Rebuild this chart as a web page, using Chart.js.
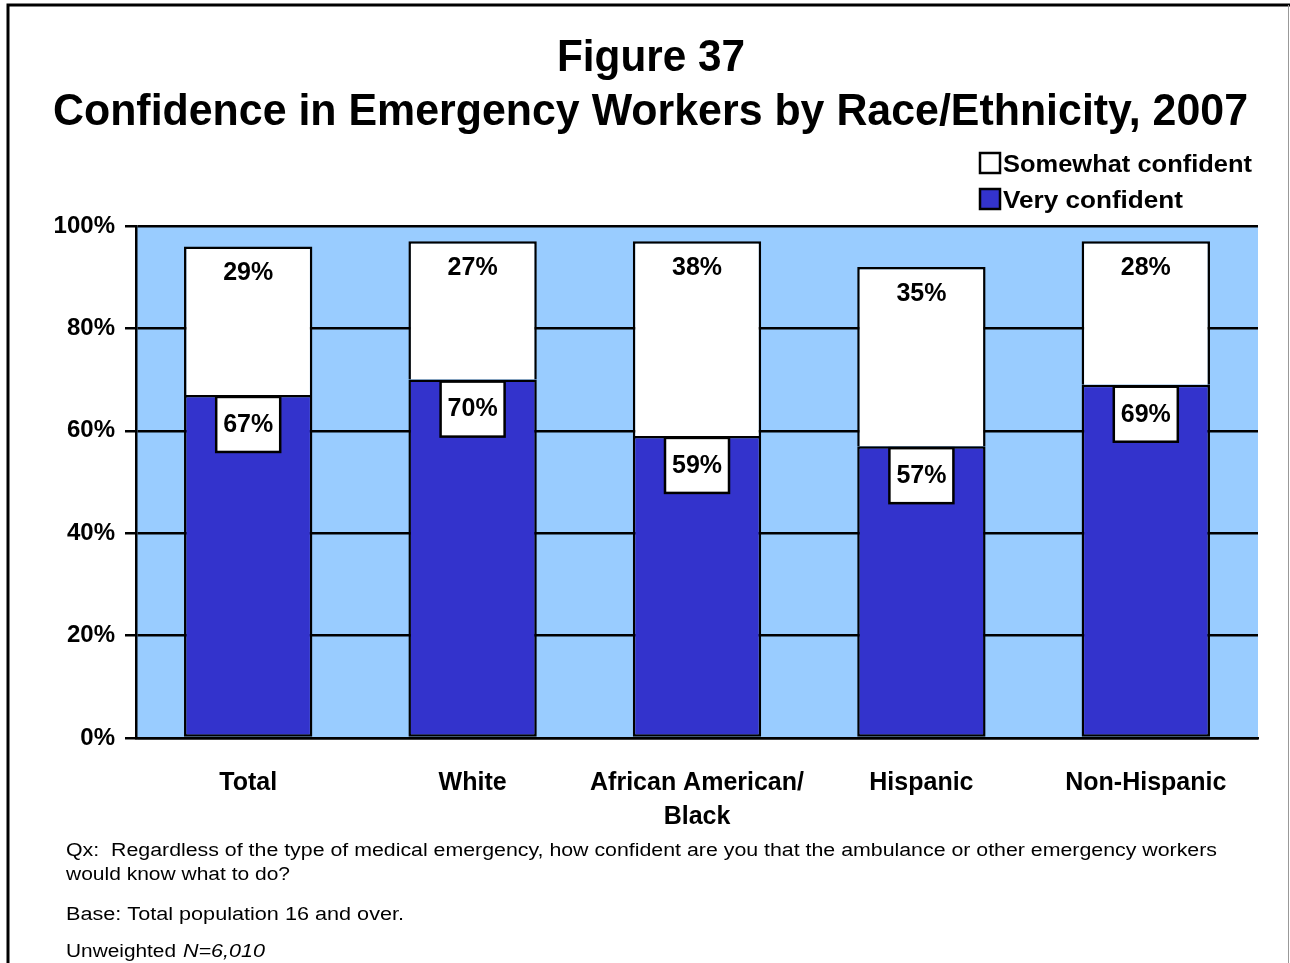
<!DOCTYPE html>
<html><head><meta charset="utf-8">
<script src="https://cdn.jsdelivr.net/npm/chart.js@4/dist/chart.umd.min.js"></script>
<style>html,body{margin:0;padding:0;background:#fff;}canvas{display:block;}</style>
</head><body>
<canvas id="c" width="1290" height="963"></canvas>
<script>
const categories = ['Total', 'White', ['African American/', 'Black'], 'Hispanic', 'Non-Hispanic'];
const veryConfident = [67, 70, 59, 57, 69];
const somewhatConfident = [29, 27, 38, 35, 28];
const seriesNames = ['Very confident', 'Somewhat confident'];
const yTickValues = [0, 20, 40, 60, 80, 100];
const titleLines = ['Figure 37', 'Confidence in Emergency Workers by Race/Ethnicity, 2007'];
const noteLines = [
  'Qx:  Regardless of the type of medical emergency, how confident are you that the ambulance or other emergency workers',
  'would know what to do?',
  'Base: Total population 16 and over.'
];
const sampleLabel = 'Unweighted ';
const sampleValue = 'N=6,010';

const FONT = '"Liberation Sans", Arial, Helvetica, sans-serif';
const BLUE = '#3333CC';
const LIGHT = '#99CCFF';

function fitText(ctx, text, x, y, width) {
  const w = ctx.measureText(text).width;
  ctx.save();
  ctx.translate(x, y);
  ctx.scale(width / w, 1);
  ctx.textAlign = 'left';
  ctx.fillText(text, 0, 0);
  ctx.restore();
}

const decor = {
  id: 'decor',
  beforeDraw(chart) {
    const { ctx, chartArea: a } = chart;
    ctx.save();
    ctx.fillStyle = '#fff';
    ctx.fillRect(0, 0, chart.width, chart.height);
    ctx.fillStyle = LIGHT;
    ctx.fillRect(a.left, a.top, a.right - a.left, a.bottom - a.top);
    ctx.restore();
  },
  afterDatasetsDraw(chart) {
    const ctx = chart.ctx;
    ctx.save();
    ctx.textAlign = 'center';
    ctx.textBaseline = 'middle';
    ctx.font = 'bold 25px ' + FONT;
    const m0 = chart.getDatasetMeta(0);
    m0.data.forEach((el, i) => {
      const bw = 64, bh = 55;
      const top = el.y + 2;
      ctx.fillStyle = '#fff';
      ctx.fillRect(el.x - bw / 2, top, bw, bh);
      ctx.strokeStyle = '#000';
      ctx.lineWidth = 2.5;
      ctx.strokeRect(el.x - bw / 2, top, bw, bh);
      ctx.fillStyle = '#000';
      ctx.fillText(chart.data.datasets[0].data[i] + '%', el.x, el.y + 30);
    });
    const m1 = chart.getDatasetMeta(1);
    m1.data.forEach((el, i) => {
      ctx.fillStyle = '#000';
      ctx.fillText(chart.data.datasets[1].data[i] + '%', el.x, el.y + 27);
    });
    ctx.restore();
  },
  afterDraw(chart) {
    const ctx = chart.ctx;
    ctx.save();
    ctx.fillStyle = '#000';
    ctx.textBaseline = 'alphabetic';
    // titles
    ctx.font = 'bold 44px ' + FONT;
    fitText(ctx, titleLines[0], 557, 71, 188);
    fitText(ctx, titleLines[1], 53, 125, 1195);
    // legend (reverse order)
    ctx.font = 'bold 24px ' + FONT;
    const ds = chart.data.datasets;
    const legendRows = [
      { d: ds[1], y: 152, w: 249 },
      { d: ds[0], y: 188, w: 180 }
    ];
    legendRows.forEach(r => {
      ctx.fillStyle = r.d.backgroundColor;
      ctx.fillRect(980, r.y + 1, 20, 20);
      ctx.strokeStyle = '#000';
      ctx.lineWidth = 2.5;
      ctx.strokeRect(980, r.y + 1, 20, 20);
      ctx.fillStyle = '#000';
      fitText(ctx, r.d.label, 1003, r.y + 20, r.w);
    });
    // notes
    ctx.font = '18px ' + FONT;
    fitText(ctx, noteLines[0], 66, 856, 1151);
    fitText(ctx, noteLines[1], 66, 880, 224);
    fitText(ctx, noteLines[2], 66, 920, 338);
    fitText(ctx, sampleLabel.trim(), 66, 957, 110);
    ctx.font = 'italic 18px ' + FONT;
    fitText(ctx, sampleValue, 183, 957, 82);
    // frame
    ctx.strokeStyle = '#000';
    ctx.lineWidth = 3;
    ctx.beginPath();
    ctx.moveTo(8, 963);
    ctx.lineTo(8, 5);
    ctx.lineTo(1290, 5);
    ctx.stroke();
    ctx.strokeStyle = '#999';
    ctx.lineWidth = 1;
    ctx.beginPath();
    ctx.moveTo(1288.5, 5);
    ctx.lineTo(1288.5, 963);
    ctx.stroke();
    ctx.restore();
  }
};

new Chart(document.getElementById('c'), {
  type: 'bar',
  data: {
    labels: categories,
    datasets: [
      { label: seriesNames[0], data: veryConfident, backgroundColor: BLUE, borderColor: '#000', borderWidth: 2.5, borderSkipped: false },
      { label: seriesNames[1], data: somewhatConfident, backgroundColor: '#FFFFFF', borderColor: '#000', borderWidth: 2.5, borderSkipped: 'start' }
    ]
  },
  options: {
    responsive: false,
    animation: false,
    devicePixelRatio: 1,
    layout: { padding: { top: 226, right: 32, bottom: 0, left: 0 } },
    datasets: { bar: { categoryPercentage: 1, barPercentage: 0.572 } },
    plugins: { legend: { display: false }, tooltip: { enabled: false }, title: { display: false } },
    scales: {
      x: {
        stacked: true,
        grid: { display: true, drawOnChartArea: false, drawTicks: false },
        border: { display: true, color: '#000', width: 2.5 },
        ticks: { color: '#000', padding: 28, maxRotation: 0, autoSkip: false,
                  font: { family: FONT, size: 25, weight: 'bold', lineHeight: 1.36 } },
        afterFit(s) { s.height = 225; }
      },
      y: {
        stacked: true,
        min: 0, max: 100,
        afterBuildTicks(s) { s.ticks = yTickValues.map(v => ({ value: v })); },
        grid: { color: '#000', lineWidth: 2.5, tickLength: 11, drawTicks: true },
        border: { display: true, color: '#000', width: 2.5 },
        ticks: { color: '#000', padding: 10, font: { family: FONT, size: 24, weight: 'bold' },
                 callback: v => v + '%' },
        afterFit(s) { s.width = 136; }
      }
    }
  },
  plugins: [decor]
});
</script>
</body></html>
